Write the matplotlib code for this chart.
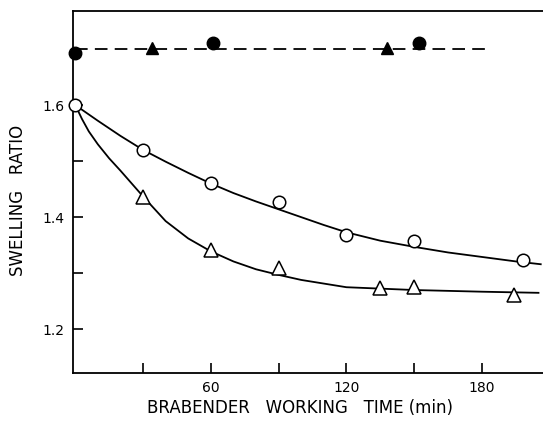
import matplotlib.pyplot as plt
from matplotlib.ticker import FixedLocator

# measured points
circ_open_t = [0, 30, 60, 90, 120, 150, 198]
circ_open_r = [1.60, 1.52, 1.461, 1.427, 1.369, 1.358, 1.323]
tri_open_t = [30, 60, 90, 135, 150, 194]
tri_open_r = [1.436, 1.341, 1.309, 1.273, 1.276, 1.261]
circ_fill_t = [0, 61, 152]
circ_fill_r = [1.693, 1.711, 1.711]
tri_fill_t = [34, 138]
tri_fill_r = [1.702, 1.702]

# fitted curves
circ_curve_t = [0, 10, 20, 30, 40, 50, 60, 70, 80, 90, 100, 110, 120, 135, 150, 165, 180, 195, 206]
circ_curve_r = [1.60, 1.572, 1.545, 1.52, 1.499, 1.479, 1.46, 1.443, 1.428, 1.414, 1.40, 1.386,
                1.373, 1.358, 1.347, 1.337, 1.329, 1.321, 1.316]
tri_curve_t = [0, 3, 6, 10, 15, 20, 25, 30, 35, 40, 50, 60, 70, 80, 90, 100, 120, 150, 180, 205]
tri_curve_r = [1.60, 1.575, 1.553, 1.53, 1.505, 1.483, 1.46, 1.437, 1.415, 1.393, 1.362, 1.339,
               1.321, 1.307, 1.297, 1.288, 1.275, 1.270, 1.267, 1.265]
dash_t = [0, 184]
dash_r = [1.70, 1.70]

x_major = [60, 120, 180]
x_minor = [30, 90, 150]
y_major = [1.2, 1.4, 1.6]
y_minor = [1.3, 1.5]


def main():
    fig = plt.figure(figsize=(5.43, 4.25), dpi=100)
    ax = fig.add_axes([0.1344, 0.1224, 0.8656, 0.852])
    lw = 1.3
    ax.plot(circ_curve_t, circ_curve_r, color='black', lw=lw, zorder=2)
    ax.plot(tri_curve_t, tri_curve_r, color='black', lw=lw, zorder=2)
    ax.plot(dash_t, dash_r, color='black', lw=lw, dashes=(7, 4), zorder=2)

    ax.plot(circ_open_t, circ_open_r, 'o', ms=9, mfc='white', mec='black', mew=1.1,
            zorder=3, clip_on=False)
    ax.plot(tri_open_t, tri_open_r, '^', ms=10, mfc='white', mec='black', mew=1.1, zorder=3)
    ax.plot(circ_fill_t, circ_fill_r, 'o', ms=9, color='black', zorder=3, clip_on=False)
    ax.plot(tri_fill_t, tri_fill_r, '^', ms=9, color='black', zorder=3)

    ax.set_xlim(-1, 207)
    ax.set_ylim(1.122, 1.768)
    ax.set_xticks(x_major)
    ax.xaxis.set_minor_locator(FixedLocator(x_minor))
    ax.set_yticks(y_major)
    ax.set_yticklabels([str(v) for v in y_major])
    ax.yaxis.set_minor_locator(FixedLocator(y_minor))
    ax.tick_params(which='both', direction='in', length=7, width=1.2, labelsize=10, pad=6)
    ax.spines['right'].set_visible(False)
    for s in ['left', 'bottom', 'top']:
        ax.spines[s].set_linewidth(1.3)

    fig.text(300 / 543, 1 - 408 / 425, 'BRABENDER   WORKING   TIME (min)', fontsize=12,
             ha='center', va='center')
    fig.text(18 / 543, 1 - 200 / 425, 'SWELLING   RATIO', fontsize=12, rotation=90,
             ha='center', va='center')
    fig.savefig('out.png', dpi=100)


if __name__ == '__main__':
    main()
